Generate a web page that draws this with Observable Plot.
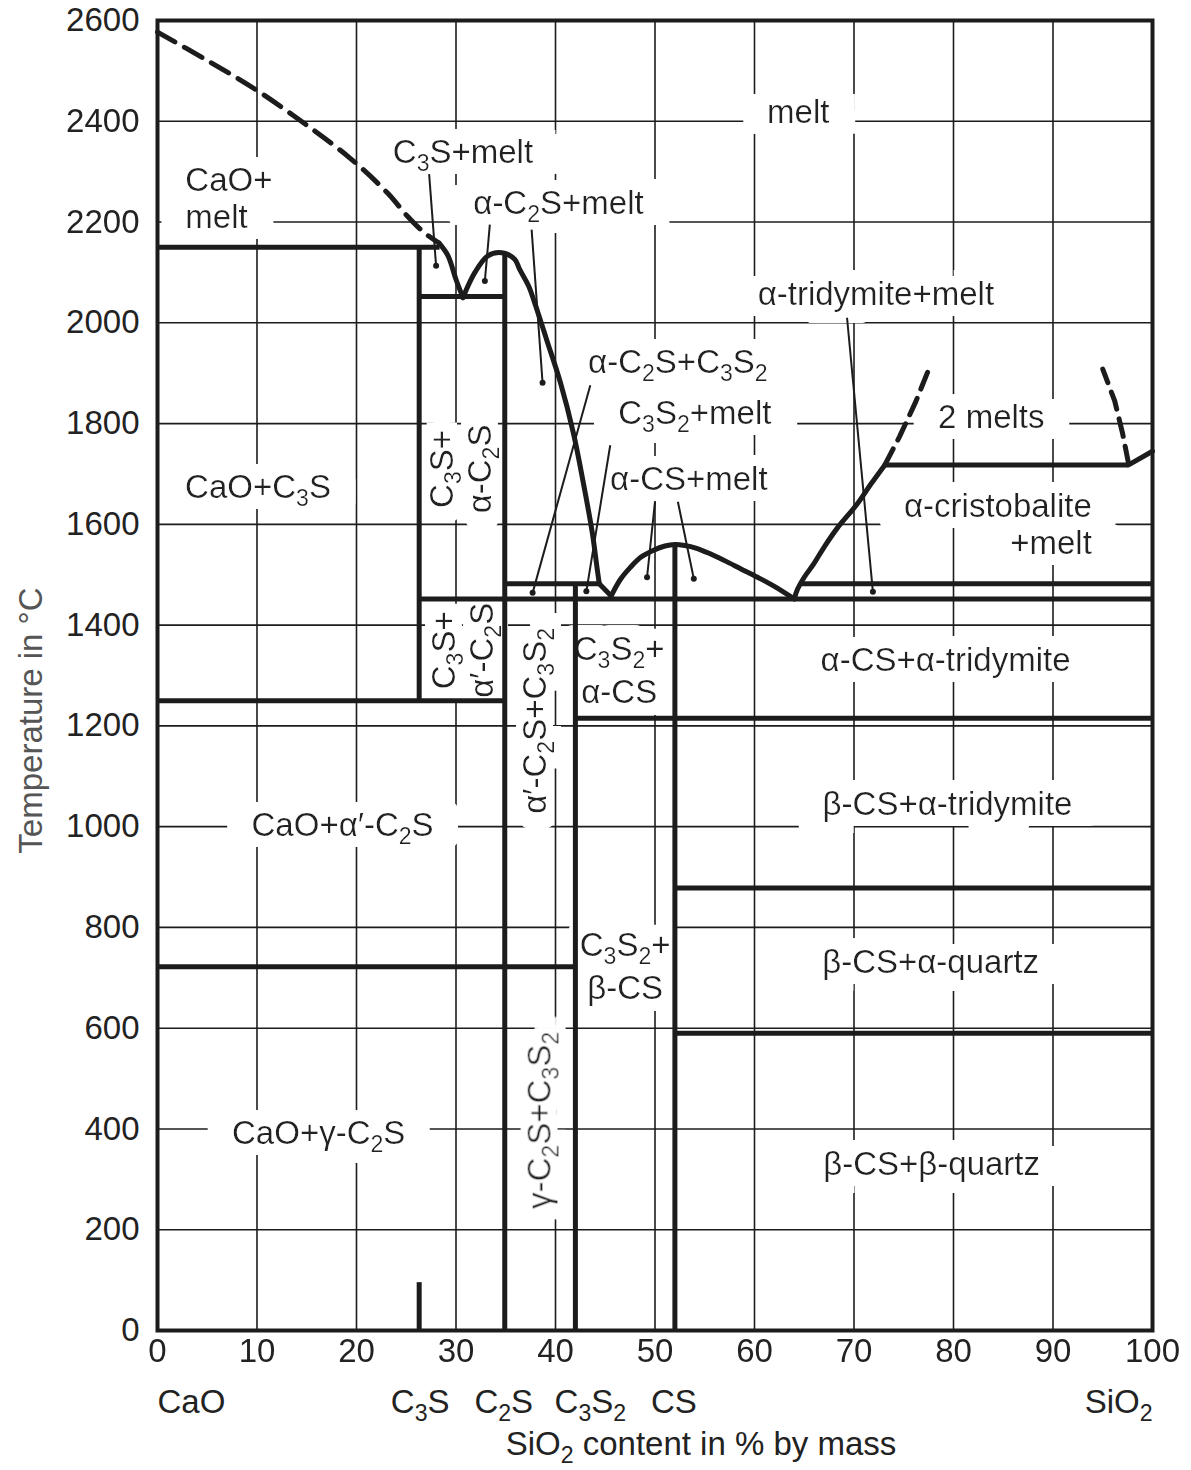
<!DOCTYPE html>
<html><head><meta charset="utf-8">
<script src="https://cdn.jsdelivr.net/npm/d3@7"></script>
<script src="https://cdn.jsdelivr.net/npm/@observablehq/plot@0.6"></script>
<style>body{margin:0;background:#fff;}</style>
</head><body><div id="chart"></div>
<script>
// ---------- axis values ----------
const xTicks = [0,10,20,30,40,50,60,70,80,90,100];
const yTicks = [0,200,400,600,800,1000,1200,1400,1600,1800,2000,2200,2400,2600];
const xGrid = [10,20,30,40,50,60,70,80,90];
const yGrid = [200,400,600,800,1000,1200,1400,1600,1800,2000,2200,2400];

// ---------- compounds on the composition axis ----------
const compoundNames = ["C_3S","C_2S","C_3S_2","CS"];
const compoundX = [26.4, 34.8, 43.5, 51.9];
const endNames = ["CaO", "SiO_2"];
const endX = [0, 100];

// ---------- horizontal invariant lines (T in °C, from x1 to x2 % SiO2) ----------
const isoT  = [2150, 2052, 1250, 1452, 1482, 1482, 1215, 878, 590, 722, 1718];
const isoX1 = [0,    26.3, 0,    26.3, 34.9, 64.6, 42,   52,  52,  0,   73.1];
const isoX2 = [28.4, 34.9, 34.9, 100,  44.4, 100,  100,  100, 100, 42,  97.6];

// ---------- vertical compound lines ----------
const vertX  = [26.3, 34.9, 42,   52,   26.3];
const vertT1 = [1250, 0,    0,    0,    0];
const vertT2 = [2150, 2139, 1482, 1560, 95];

// ---------- liquidus curves ----------
const caoLiqX = [0, 4.8, 9.7, 14.6, 19.4, 23.1, 25.1, 26.8, 28.3];
const caoLiqT = [2577, 2523, 2465, 2398, 2326, 2258, 2212, 2179, 2158];
const c3sLiqX = [28.3, 29.2, 30.0, 30.7];
const c3sLiqT = [2158, 2133, 2086, 2050];
const c2sLiqX = [30.7, 31.9, 33.2, 34.6, 35.9, 36.4, 37.3, 37.9, 39.1, 40.5, 41.8, 42.8, 43.7, 44.2, 44.4];
const c2sLiqT = [2050, 2100, 2133, 2139, 2126, 2106, 2073, 2040, 1967, 1881, 1781, 1682, 1583, 1510, 1482];
const kinkX = [44.4, 45.6];
const kinkT = [1482, 1458];
const domeX = [45.6, 46.5, 47.5, 48.6, 49.8, 51, 52, 53, 54.1, 55.5, 57, 58.6, 60.3, 62, 64.0];
const domeT = [1458, 1490, 1514, 1535, 1548, 1557, 1560, 1558, 1553, 1542, 1528, 1512, 1495, 1477, 1452];
const cristX = [64.0, 64.3, 65.0, 65.9, 67.0, 68.3, 70.3, 71.7, 73.1];
const cristT = [1452, 1470, 1495, 1520, 1555, 1592, 1640, 1680, 1718];
const monoX = [97.6, 100];
const monoT = [1718, 1745];
const gapLeftX = [73.1, 74.6, 76.2, 77.6];
const gapLeftT = [1718, 1775, 1843, 1912];
const gapRightX = [97.6, 97.0, 96.2, 95.0];
const gapRightT = [1720, 1780, 1845, 1908];

// ---------- leader lines (label -> field) ----------
const leadX1 = [27.3, 33.4, 37.6, 43.5, 45.5, 50.0, 52.3, 69.3];
const leadT1 = [2295, 2195, 2185, 1876, 1757, 1645, 1645, 2010];
const leadX2 = [28.0, 32.9, 38.7, 37.7, 43.1, 49.2, 53.9, 71.9];
const leadT2 = [2113, 2083, 1881, 1464, 1467, 1495, 1492, 1466];

// ---------- field labels ----------
const fieldText = ["melt","C_3S+melt","α-C_2S+melt","α-tridymite+melt","α-C_2S+C_3S_2","C_3S_2+melt","2 melts",
  "CaO+C_3S","α-CS+melt","α-CS+α-tridymite","CaO+α′-C_2S","β-CS+α-tridymite","β-CS+α-quartz","CaO+γ-C_2S","β-CS+β-quartz"];
const fieldX = [64.4, 30.7, 40.3, 72.2, 52.3, 54.0, 83.8, 10.1, 53.4, 79.2, 18.6, 79.4, 77.7, 16.2, 77.8];
const fieldT = [2418, 2338, 2236, 2056, 1921, 1821, 1813, 1673, 1690, 1329, 1002, 1044, 730, 391, 329];

const stackText = ["C_3S_2+\nα-CS", "C_3S_2+\nβ-CS"];
const stackX = [46.4, 47.0];
const stackT = [1316, 728];

const leftText = ["CaO+\nmelt"];  const leftX = [2.8];  const leftT = [2249];
const rightText = ["α-cristobalite\n+melt"]; const rightX = [93.9]; const rightT = [1601];

const vertText = ["C_3S+\nα-C_2S", "C_3S+\nα′-C_2S"];
const vertTX = [30.4, 30.6];
const vertTT = [1710, 1350];
const vertText1 = ["α′-C_2S+C_3S_2", "γ-C_2S+C_3S_2"];
const vertText1X = [38.0, 38.4];
const vertText1T = [1210, 417];

// ---------- build tables ----------
const pts = (xs, ts) => xs.map((x, i) => ({x, T: ts[i]}));
const isotherms = isoT.map((T, i) => ({T, x1: isoX1[i], x2: isoX2[i]}));
const verticals = vertX.map((x, i) => ({x, T1: vertT1[i], T2: vertT2[i]}));
const leaders = leadX1.map((x, i) => ({x1: x, T1: leadT1[i], x2: leadX2[i], T2: leadT2[i]}));
const tbl = (txt, xs, ts) => txt.map((t, i) => ({t, x: xs[i], T: ts[i]}));

const ink = "#1c1c1c";
const txt = "#222";
const thick = 5;
const FS = 33;
const font = "Liberation Sans, Arial, Helvetica, sans-serif";
const lab = (data, opts) => Plot.text(data, {x: "x", y: "T", text: "t", fontSize: FS, fill: txt, ...opts});

const chart = Plot.plot({
  width: 1191, height: 1470,
  marginLeft: 157, marginRight: 39, marginTop: 20, marginBottom: 140,
  x: {domain: [0, 100]},
  y: {domain: [0, 2600]},
  style: {fontFamily: font, fontSize: FS + "px", background: "white", color: txt},
  marks: [
    Plot.ruleX(xGrid, {y1: 0, y2: 2600, stroke: ink, strokeWidth: 1.6}),
    Plot.ruleY(yGrid, {x1: 0, x2: 100, stroke: ink, strokeWidth: 1.6}),
    // field labels (the first six text marks get a white knock-out halo below)
    lab(tbl(fieldText, fieldX, fieldT), {}),
    lab(tbl(stackText, stackX, stackT), {lineHeight: 1.3}),
    lab(tbl(leftText, leftX, leftT), {textAnchor: "start", lineHeight: 1.12}),
    lab(tbl(rightText, rightX, rightT), {textAnchor: "end", lineHeight: 1.12}),
    lab(tbl(vertText, vertTX, vertTT), {rotate: -90, lineHeight: 1.15}),
    lab(tbl(vertText1, vertText1X, vertText1T), {rotate: -90}),
    // leaders
    Plot.link(leaders, {x1: "x1", y1: "T1", x2: "x2", y2: "T2", stroke: ink, strokeWidth: 2}),
    Plot.dot(leaders, {x: "x2", y: "T2", r: 3, fill: ink, stroke: null}),
    // phase boundaries
    Plot.ruleY(isotherms, {y: "T", x1: "x1", x2: "x2", stroke: ink, strokeWidth: thick}),
    Plot.ruleX(verticals, {x: "x", y1: "T1", y2: "T2", stroke: ink, strokeWidth: thick}),
    Plot.line(pts(caoLiqX, caoLiqT), {x: "x", y: "T", stroke: ink, strokeWidth: thick, strokeDasharray: "20,11", curve: "catmull-rom"}),
    Plot.line(pts(c3sLiqX, c3sLiqT), {x: "x", y: "T", stroke: ink, strokeWidth: thick, curve: "catmull-rom"}),
    Plot.line(pts(c2sLiqX, c2sLiqT), {x: "x", y: "T", stroke: ink, strokeWidth: thick, curve: "catmull-rom"}),
    Plot.line(pts(kinkX, kinkT), {x: "x", y: "T", stroke: ink, strokeWidth: thick}),
    Plot.line(pts(domeX, domeT), {x: "x", y: "T", stroke: ink, strokeWidth: thick, curve: "catmull-rom"}),
    Plot.line(pts(cristX, cristT), {x: "x", y: "T", stroke: ink, strokeWidth: thick, curve: "catmull-rom"}),
    Plot.line(pts(monoX, monoT), {x: "x", y: "T", stroke: ink, strokeWidth: thick}),
    Plot.line(pts(gapLeftX, gapLeftT), {x: "x", y: "T", stroke: ink, strokeWidth: thick, strokeDasharray: "18,10"}),
    Plot.line(pts(gapRightX, gapRightT), {x: "x", y: "T", stroke: ink, strokeWidth: thick, strokeDasharray: "18,10"}),
    Plot.frame({stroke: ink, strokeWidth: 4}),
    // axes
    Plot.axisX(xTicks, {tickSize: 0, tickPadding: 8, fontSize: FS, label: null, tickFormat: d => String(d), fill: txt}),
    Plot.axisY(yTicks, {tickSize: 0, tickPadding: 18, fontSize: FS, label: null, tickFormat: d => String(d), fill: txt}),
    Plot.text(compoundNames.map((t, i) => ({t, x: compoundX[i]})), {x: "x", text: "t", frameAnchor: "bottom", dy: 72, lineAnchor: "middle", textAnchor: "middle", fontSize: FS, fill: txt}),
    Plot.text([{t: endNames[0], x: endX[0]}], {x: "x", text: "t", frameAnchor: "bottom", dy: 72, lineAnchor: "middle", textAnchor: "start", fontSize: FS, fill: txt}),
    Plot.text([{t: endNames[1], x: endX[1]}], {x: "x", text: "t", frameAnchor: "bottom", dy: 72, lineAnchor: "middle", textAnchor: "end", fontSize: FS, fill: txt}),
    Plot.text(["SiO_2 content in % by mass"], {frameAnchor: "bottom", dy: 114, dx: 46, lineAnchor: "middle", textAnchor: "middle", fontSize: FS, fill: txt}),
    Plot.text(["Temperature in °C"], {frameAnchor: "left", rotate: -90, textAnchor: "middle", lineAnchor: "middle", dx: -126, dy: 45, fontSize: FS, fill: "#555"})
  ]
});

// subscripts: "_d" -> lowered small digit
function subscriptify(svg) {
  const NS = "http://www.w3.org/2000/svg";
  const shift = Math.round(FS * 0.24);
  const nodes = Array.from(svg.querySelectorAll("text, tspan"))
    .filter(n => n.children.length === 0 && n.textContent.includes("_"));
  for (const n of nodes) {
    const parts = n.textContent.split(/(_\d)/).filter(p => p);
    n.textContent = "";
    let shifted = false;
    for (const p of parts) {
      const t = document.createElementNS(NS, "tspan");
      if (p[0] === "_") {
        t.textContent = p.slice(1);
        t.setAttribute("font-size", "0.7em");
        if (!shifted) t.setAttribute("dy", String(shift));
        shifted = true;
      } else {
        t.textContent = p;
        if (shifted) t.setAttribute("dy", String(-shift));
        shifted = false;
      }
      n.appendChild(t);
    }
  }
}

// white knock-out halos around field labels (masks the grid, as in the printed chart)
function addHalos(svg) {
  const NS = "http://www.w3.org/2000/svg";
  const defs = document.createElementNS(NS, "defs");
  const radii = {wide: "26 11", box: "13 12", col: "7 16"};
  for (const [id, r] of Object.entries(radii)) {
    const f = document.createElementNS(NS, "filter");
    f.setAttribute("id", "halo-" + id);
    f.setAttribute("filterUnits", "userSpaceOnUse");
    f.setAttribute("x", "0"); f.setAttribute("y", "0");
    f.setAttribute("width", "1191"); f.setAttribute("height", "1470");
    f.innerHTML = `<feMorphology in="SourceAlpha" operator="dilate" radius="${r}" result="d"/>
      <feFlood flood-color="white" result="w"/>
      <feComposite in="w" in2="d" operator="in" result="wd"/>
      <feMerge><feMergeNode in="wd"/><feMergeNode in="SourceGraphic"/></feMerge>`;
    defs.appendChild(f);
  }
  svg.insertBefore(defs, svg.firstChild);
  const groups = svg.querySelectorAll('g[aria-label="text"]');
  const which = ["wide", "box", "wide", "wide", "col", "col"];
  which.forEach((id, i) => { if (groups[i]) groups[i].setAttribute("filter", `url(#halo-${id})`); });
}
subscriptify(chart);
addHalos(chart);
document.getElementById("chart").appendChild(chart);
</script>
</body></html>
